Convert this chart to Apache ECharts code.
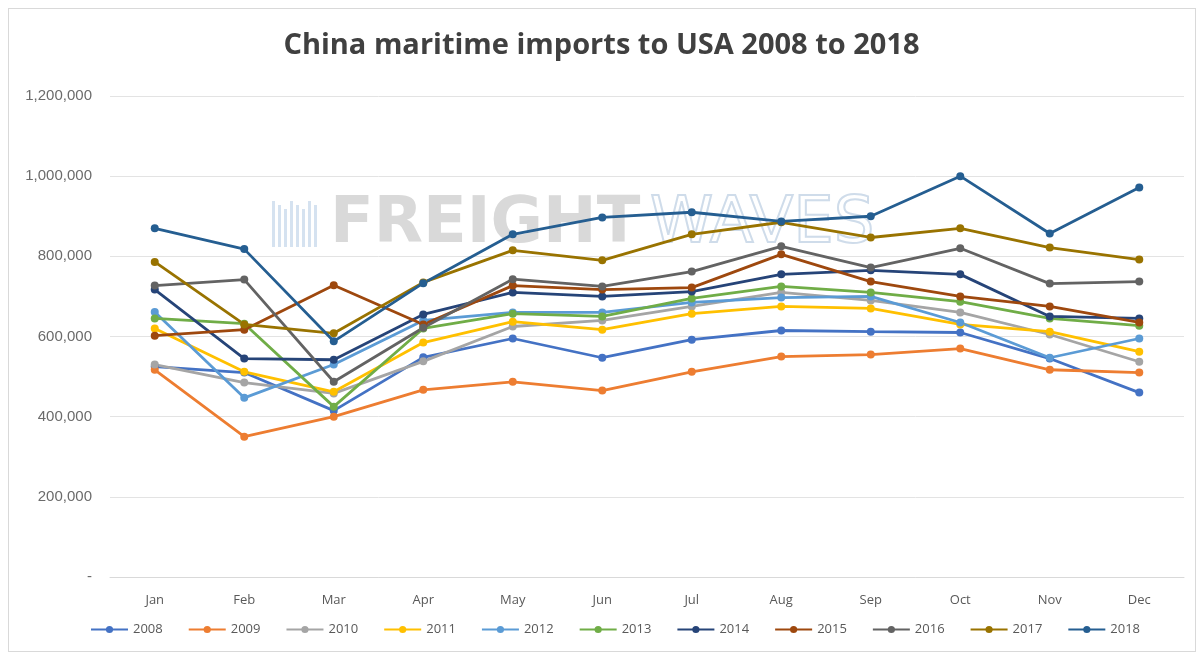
<!DOCTYPE html>
<html>
<head>
<meta charset="utf-8">
<script src="https://cdn.jsdelivr.net/npm/echarts@6/dist/echarts.min.js"></script>
<style>
html,body{margin:0;padding:0;background:#fff;}
#c{width:1203px;height:655px;}
#frame{position:absolute;left:8px;top:8px;width:1186px;height:642px;border:1px solid #d9d9d9;pointer-events:none;}
</style>
</head>
<body>
<div id="c"></div>
<div id="frame"></div>
<script>
const months = ['Jan','Feb','Mar','Apr','May','Jun','Jul','Aug','Sep','Oct','Nov','Dec'];
const years = ['2008','2009','2010','2011','2012','2013','2014','2015','2016','2017','2018'];
const colors = ['#4472C4','#ED7D31','#A5A5A5','#FFC000','#5B9BD5','#70AD47','#264478','#9E480E','#636363','#997300','#255E91'];

const y2008 = [525000, 510000, 415000, 548000, 595000, 547000, 592000, 615000, 612000, 610000, 545000, 460000];
const y2009 = [517000, 350000, 400000, 467000, 487000, 465000, 512000, 550000, 555000, 570000, 517000, 510000];
const y2010 = [530000, 485000, 458000, 538000, 625000, 640000, 675000, 710000, 690000, 660000, 605000, 537000];
const y2011 = [620000, 512000, 462000, 585000, 637000, 617000, 657000, 675000, 670000, 630000, 612000, 562000];
const y2012 = [661000, 447000, 530000, 640000, 660000, 660000, 685000, 697000, 700000, 635000, 547000, 595000];
const y2013 = [645000, 632000, 425000, 620000, 657000, 650000, 695000, 725000, 710000, 687000, 645000, 627000];
const y2014 = [717000, 545000, 542000, 655000, 710000, 700000, 712000, 755000, 765000, 755000, 650000, 645000];
const y2015 = [602000, 617000, 728000, 630000, 727000, 717000, 722000, 805000, 737000, 700000, 675000, 635000];
const y2016 = [727000, 742000, 487000, 622000, 743000, 725000, 762000, 825000, 772000, 820000, 732000, 737000];
const y2017 = [786000, 630000, 608000, 735000, 815000, 790000, 855000, 885000, 847000, 870000, 822000, 792000];
const y2018 = [870000, 818000, 588000, 733000, 855000, 897000, 910000, 887000, 900000, 1000000, 857000, 972000];
const seriesData = [y2008,y2009,y2010,y2011,y2012,y2013,y2014,y2015,y2016,y2017,y2018];

const chart = echarts.init(document.getElementById('c'), null, {renderer:'canvas'});
const fmt = v => v === 0 ? '-' : v.toLocaleString('en-US');

const logoBars = [];
for (let k = 0; k < 8; k++) {
  logoBars.push({type:'rect', shape:{x:k*6, y:(k%3)*4, width:3, height:46-(k%3)*4}, style:{fill:'#d5e2f0'}});
}

chart.setOption({
  animation: false,
  backgroundColor: '#fff',
  color: colors,
  title: {
    text: 'China maritime imports to USA 2008 to 2018',
    left: 'center', top: 26,
    textStyle: {fontFamily: 'Open Sans, sans-serif', fontSize: 29, fontWeight: 'bold', color: '#404040'}
  },
  graphic: [
    {type:'group', left: 272, top: 192, z: -1, silent: true, children: logoBars.concat([
      {type:'text', x: 58, y: -8, style:{text:'FREIGHT', font:'bold 64px DejaVu Sans, sans-serif', fill:'#d9d9d9'}},
      {type:'text', x: 378, y: -8, style:{text:'WAVES', font:'64px DejaVu Sans, sans-serif', fill:'rgba(255,255,255,0)', stroke:'#cfdcea', lineWidth:2}}
    ])}
  ],
  legend: {
    bottom: 14, left: 85, itemGap: 25, itemWidth: 37, itemHeight: 9,
    textStyle: {fontFamily: 'Open Sans, sans-serif', fontSize: 13, color: '#595959'},
    data: years
  },
  grid: {left: 110, right: 19, top: 96, bottom: 78},
  xAxis: {
    type: 'category', data: months, boundaryGap: true,
    axisLine: {lineStyle: {color: '#d9d9d9'}},
    axisTick: {show: false},
    axisLabel: {margin: 17, fontFamily: 'Open Sans, sans-serif', fontSize: 13, color: '#595959'}
  },
  yAxis: {
    type: 'value', min: 0, max: 1200000, interval: 200000,
    axisLine: {show: false}, axisTick: {show: false},
    splitLine: {lineStyle: {color: '#e3e3e3'}},
    axisLabel: {margin: 18, formatter: fmt, fontFamily: 'Liberation Sans, sans-serif', fontSize: 15, color: '#6b6b6b'}
  },
  series: years.map((y, i) => ({
    name: y, type: 'line', data: seriesData[i],
    symbol: 'circle', symbolSize: 8, showSymbol: true,
    lineStyle: {width: 2.8, color: colors[i]},
    itemStyle: {color: colors[i]}
  }))
});
</script>
</body>
</html>
